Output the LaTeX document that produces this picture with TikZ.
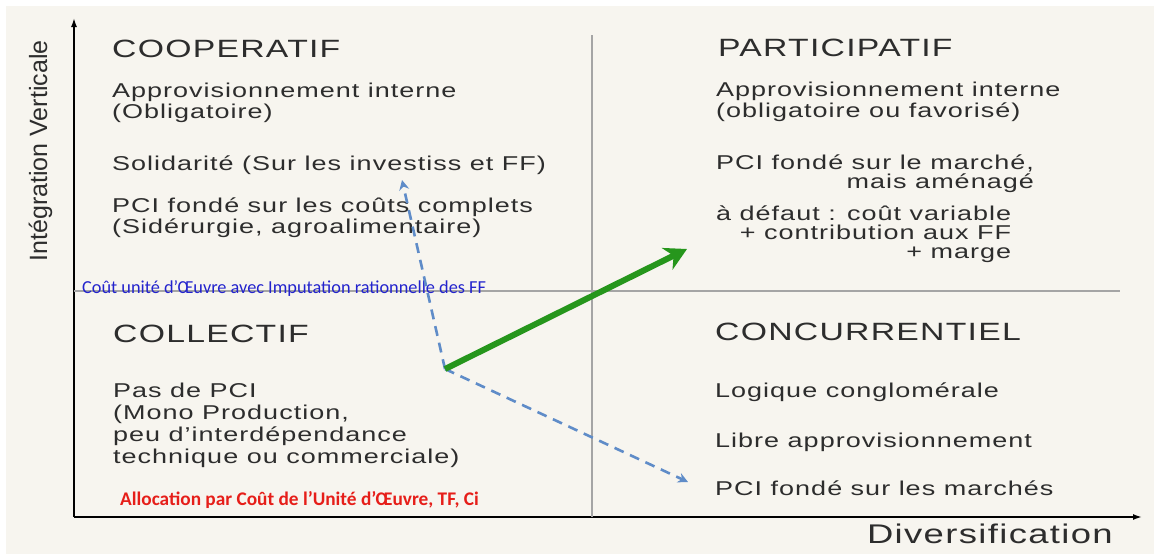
\documentclass[tikz,border=0pt]{standalone}
\usepackage{fontspec}
\setmainfont{Liberation Sans}
\newfontfamily\widefont[FakeStretch=1.35,LetterSpace=5]{Liberation Sans}
\newfontfamily\calfont{Carlito}
\usetikzlibrary{arrows.meta}
\definecolor{cream}{RGB}{247,245,239}
\definecolor{inkgray}{RGB}{45,45,45}
\definecolor{rulegray}{RGB}{165,165,165}
\definecolor{leafgreen}{RGB}{38,150,28}
\definecolor{dashblue}{RGB}{95,140,200}
\definecolor{notered}{RGB}{230,30,25}
\definecolor{noteblue}{RGB}{35,35,205}

\begin{document}
\begin{tikzpicture}[x=1pt,y=-1pt,
  title/.style={anchor=base west,inner sep=0pt,text=inkgray,font=\widefont\fontsize{25}{27}\selectfont},
  body/.style={anchor=base west,inner sep=0pt,text=inkgray,align=left,font=\widefont\fontsize{20}{20.5}\selectfont},
  note/.style={anchor=base west,inner sep=0pt,font=\calfont\fontsize{18.3}{20}\selectfont},
  axis/.style={line width=1.6pt,-{Latex[length=9pt,width=6pt]}},
  divider/.style={line width=1.2pt,rulegray},
  move/.style={line width=6pt,leafgreen,-{Stealth[length=22pt,width=24pt,inset=7pt]}},
  drift/.style={line width=2.6pt,dashblue,dash pattern=on 10pt off 7pt,-{Stealth[length=10pt,width=10pt]}}]

\useasboundingbox (0,0) rectangle (1154,554);
\fill[white] (0,0) rectangle (1154,554);
\fill[cream] (6,6) rectangle (1154,554);

% axes and quadrants
\coordinate (O) at (74,517);
\coordinate (ytop) at (74,18);
\coordinate (xend) at (1142,517);
\draw[axis] (O) -- (ytop);
\draw[axis] (O) -- (xend);
\draw[divider] (592,35) -- (592,517);
\draw[divider] (74,291) -- (1120,291);

\node[rotate=90,anchor=base,inner sep=0pt,text=inkgray,font=\fontsize{25}{27}\selectfont] (ylabel) at (47,151) {Intégration Verticale};
\node[anchor=base east,inner sep=0pt,text=inkgray,font=\widefont\fontsize{27}{29}\selectfont] (xlabel) at (1113,543) {Diversification};

% COOPERATIF
\node[title] (coop) at (112,57) {COOPERATIF};
\node[body] (coopA) at (112,118) {Approvisionnement interne\\(Obligatoire)};
\node[body] (coopB) at (112,170) {Solidarité (Sur les investiss et FF)};
\node[body] (coopC) at (112,233) {PCI fondé sur les coûts complets\\(Sidérurgie, agroalimentaire)};
\node[note,text=noteblue] (coopnote) at (82,293) {Coût unité d’Œuvre avec Imputation rationnelle des FF};

% COLLECTIF
\node[title] (coll) at (113,342) {COLLECTIF};
\node[body,font=\widefont\fontsize{20}{21.7}\selectfont] (collA) at (113,463) {Pas de PCI\\(Mono Production,\\peu d’interdépendance\\technique ou commerciale)};
\node[note,text=notered,font=\calfont\bfseries\fontsize{19.3}{21}\selectfont] (collnote) at (120,505) {Allocation par Coût de l’Unité d’Œuvre, TF, Ci};

% PARTICIPATIF
\node[title] (part) at (718,56) {PARTICIPATIF};
\node[body] (partA) at (716,117) {Approvisionnement interne\\(obligatoire ou favorisé)};
\node[body,align=right,font=\widefont\fontsize{20}{18.5}\selectfont] (partB) at (716,188) {PCI fondé sur le marché,\\mais aménagé};
\node[body,align=right,font=\widefont\fontsize{20}{19}\selectfont] (partC) at (716,258) {à défaut : coût variable\\+ contribution aux FF\\+ marge};

% CONCURRENTIEL
\node[title] (conc) at (715,340) {CONCURRENTIEL};
\node[body] (concA) at (715,397) {Logique conglomérale};
\node[body] (concB) at (715,447) {Libre approvisionnement};
\node[body] (concC) at (715,495) {PCI fondé sur les marchés};

% trajectories
\coordinate (hub) at (445,369);
\coordinate (toPart) at (687,249);
\coordinate (toCoop) at (402,180);
\coordinate (toConc) at (688,482);
\draw[drift] (hub) -- (toCoop);
\draw[drift] (hub) -- (toConc);
\draw[move] (hub) -- (toPart);

\end{tikzpicture}
\end{document}
